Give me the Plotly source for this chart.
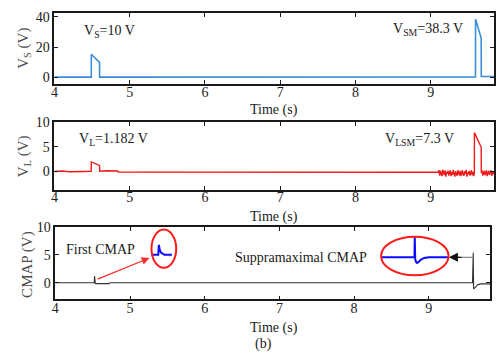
import plotly.graph_objects as go

# ---------------- data ----------------
x_ticks = [4, 5, 6, 7, 8, 9]
vs_ticks = [0, 20, 40]
vl_ticks = [0, 5, 10]
cm_ticks = [0, 5, 10]

# Panel 1: stimulus voltage V_S
vs_t = [4.0, 4.49, 4.491, 4.60, 4.601, 9.594, 9.595, 9.67, 9.671, 9.86]
vs_v = [0.2, 0.2, 15.3, 9.9, 0.2, 0.3, 38.3, 26.0, 0.6, 0.6]

# Panel 2: load voltage V_L
vl_pre_t = [4.0, 4.1, 4.2, 4.3, 4.4, 4.489, 4.49, 4.60, 4.601, 4.70, 4.84, 4.85, 6.0, 7.0, 8.0, 9.09]
vl_pre_v = [-0.05, 0.05, -0.1, 0.0, -0.05, 0.0, 1.9, 1.2, 0.0, 0.1, 0.05, -0.15, -0.2, -0.25, -0.25, -0.3]
vl_noise_t = [9.10, 9.11, 9.12, 9.13, 9.14, 9.15, 9.16, 9.17, 9.18, 9.19,
              9.20, 9.21, 9.22, 9.23, 9.24, 9.25, 9.26, 9.27, 9.28, 9.29,
              9.30, 9.31, 9.32, 9.33, 9.34, 9.35, 9.36, 9.37, 9.38, 9.39,
              9.40, 9.41, 9.42, 9.43, 9.44, 9.45, 9.46, 9.47, 9.48, 9.49,
              9.50, 9.51, 9.52, 9.53, 9.54, 9.55, 9.56, 9.57]
vl_noise_v = [-0.2, 0.2, -0.9, 0.1, -0.6, -1.0, 0.3, -0.4, -0.8, 0.2,
              -1.1, -0.1, -0.5, 0.1, -0.9, -0.3, 0.2, -1.0, -0.2, -0.7,
              0.3, -0.6, -1.1, 0.0, -0.4, -0.9, 0.2, -0.5, -0.8, 0.1,
              -1.0, -0.3, 0.2, -0.7, -0.9, 0.0, -0.5, 0.3, -1.1, -0.2,
              -0.6, 0.1, -0.9, -0.4, 0.2, -0.8, -0.1, -1.0]
vl_pulse_t = [9.579, 9.58, 9.67, 9.671]
vl_pulse_v = [-0.3, 7.9, 4.9, -0.3]
vl_post_t = [9.68, 9.69, 9.70, 9.71, 9.72, 9.73, 9.74, 9.75, 9.76, 9.77,
             9.78, 9.79, 9.80, 9.81, 9.82, 9.83, 9.84, 9.85, 9.86]
vl_post_v = [0.2, -0.9, -0.2, 0.1, -0.8, -0.4, 0.2, -1.0, -0.3, 0.1,
             -0.7, -0.2, 0.2, -0.9, -0.4, 0.0, -0.6, 0.1, -0.3]

# Panel 3: CMAP
cm_t = [4.0, 4.52, 4.525, 4.53, 4.535, 4.72, 4.73, 9.585, 9.595, 9.60, 9.62, 9.65, 9.69, 9.82]
cm_v = [0.0, 0.0, 1.2, 0.0, -0.15, -0.15, 0.0, 0.0, 5.4, -1.05, -0.9, -0.4, -0.2, -0.2]

# magnified insets
in1_t = [5.289, 5.378, 5.385, 5.392, 5.40, 5.415, 5.435, 5.46, 5.56]
in1_v = [5.0, 5.0, 6.8, 6.3, 5.8, 5.4, 5.15, 5.02, 5.0]
in2_t = [8.361, 8.808, 8.812, 8.818, 8.83, 8.845, 8.87, 8.90, 8.94, 9.0, 9.265]
in2_v = [4.56, 4.56, 8.25, 4.2, 3.7, 3.56, 3.8, 4.2, 4.45, 4.56, 4.56]

# ---------------- figure ----------------
W, H = 496, 360
SERIF = "Liberation Serif"

fig = go.Figure()
fig.add_trace(go.Scatter(x=vs_t, y=vs_v, mode="lines",
                         line=dict(color="#3a8dd6", width=1.6), xaxis="x", yaxis="y"))
fig.add_trace(go.Scatter(x=vl_pre_t + vl_noise_t + vl_pulse_t + vl_post_t,
                         y=vl_pre_v + vl_noise_v + vl_pulse_v + vl_post_v, mode="lines",
                         line=dict(color="#f01818", width=1.4), xaxis="x2", yaxis="y2"))
fig.add_trace(go.Scatter(x=cm_t, y=cm_v, mode="lines",
                         line=dict(color="#333333", width=1.1), xaxis="x3", yaxis="y3"))
fig.add_trace(go.Scatter(x=in1_t, y=in1_v, mode="lines",
                         line=dict(color="#0a0aff", width=2), xaxis="x3", yaxis="y3"))
fig.add_trace(go.Scatter(x=in2_t, y=in2_v, mode="lines",
                         line=dict(color="#0a0aff", width=2), xaxis="x3", yaxis="y3"))


def ax(dom, rng, ticks, anchor, standoff=0):
    return dict(domain=dom, range=rng, tickvals=ticks, showline=True, linecolor="#1a1a1a",
                linewidth=1.5, mirror="ticks", ticks="inside", ticklen=4, tickwidth=1,
                tickcolor="#1a1a1a", showgrid=False, zeroline=False, anchor=anchor,
                ticklabelstandoff=standoff,
                tickfont=dict(family=SERIF, size=14, color="#222"), fixedrange=True)


def py(p):
    return 1 - p / H


fig.update_layout(
    width=W, height=H, margin=dict(l=0, r=0, t=0, b=0),
    paper_bgcolor="white", plot_bgcolor="white", showlegend=False,
    xaxis=ax([51 / W, 1.0], [4, 9.84], x_ticks, "y", -6),
    yaxis=ax([py(79), py(6)], [-4.52, 42.58], vs_ticks, "x"),
    xaxis2=ax([51 / W, 1.0], [4, 9.84], x_ticks, "y2", -6),
    yaxis2=ax([py(187), py(118)], [-3.8, 10], vl_ticks, "x2"),
    xaxis3=ax([52 / W, 492 / W], [4, 9.82], x_ticks, "y3", -5),
    yaxis3=ax([py(299), py(225)], [-2.98, 10], cm_ticks, "x3"),
)


def txt(text, x, y, size=14, xanchor="left", angle=0, color="#1a1a1a"):
    fig.add_annotation(text=text, x=x / W, y=py(y), xref="paper", yref="paper",
                       xanchor=xanchor, yanchor="middle", showarrow=False, textangle=angle,
                       font=dict(family=SERIF, size=size, color=color))


txt("V<sub>S</sub> (V)", 20, 42, 15, "center", -90, "#4a4a4a")
txt("V<sub>L</sub> (V)", 20, 153, 15, "center", -90, "#4a4a4a")
txt("CMAP (V)", 23, 263, 15, "center", -90, "#4a4a4a")
txt("V<sub>S</sub>=10 V", 79, 25)
txt("V<sub>SM</sub>=38.3 V", 392, 23)
txt("V<sub>L</sub>=1.182 V", 74, 135)
txt("V<sub>LSM</sub>=7.3 V", 384, 136)
txt("First CMAP", 61, 248)
txt("Suppramaximal CMAP", 232, 256)
for yy in (105, 215, 328):
    txt("Time (s)", 273, yy, 14, "center")
txt("(b)", 263, 345, 14, "center")

# red arrow to first CMAP
fig.add_annotation(x=5.26, y=4.44, ax=4.546, ay=0.53, xref="x3", yref="y3",
                   axref="x3", ayref="y3", showarrow=True, arrowhead=2, arrowsize=1.3,
                   arrowwidth=1.2, arrowcolor="#ff2a2a", text="", standoff=0)
# arrow to suppramaximal CMAP
fig.add_shape(type="line", x0=9.595, x1=9.30, y0=4.56, y1=4.56, xref="x3", yref="y3",
              line=dict(color="#888888", width=1.2))
fig.add_annotation(x=9.268, y=4.56, ax=14, ay=0, xref="x3", yref="y3",
                   showarrow=True, arrowhead=2, arrowsize=1.4, arrowwidth=1.3,
                   arrowcolor="#111111", text="", standoff=0)
# ellipses
fig.add_shape(type="circle", x0=5.287, x1=5.618, y0=2.68, y1=9.53, xref="x3", yref="y3",
              line=dict(color="#ff1a1a", width=2))
fig.add_shape(type="circle", x0=8.361, x1=9.265, y0=1.35, y1=8.25, xref="x3", yref="y3",
              line=dict(color="#ff1a1a", width=2))

fig.write_html("out.html")
